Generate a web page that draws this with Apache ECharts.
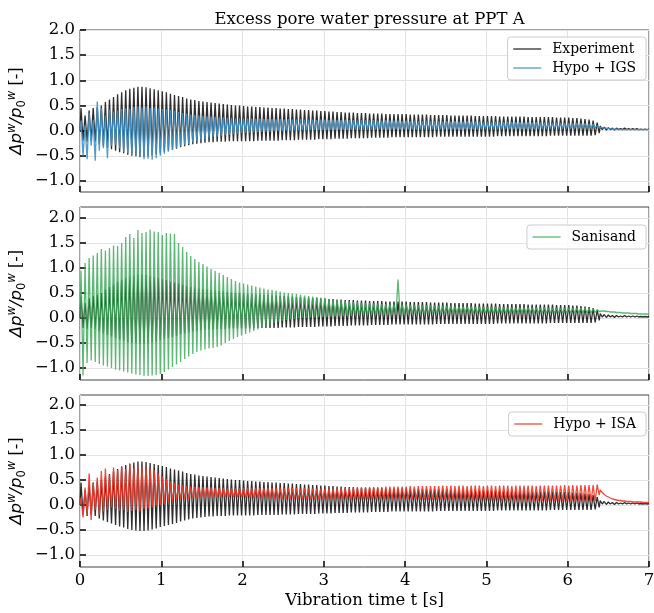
<!DOCTYPE html>
<html><head><meta charset="utf-8">
<script src="https://cdn.jsdelivr.net/npm/echarts@6/dist/echarts.min.js"></script>
<style>html,body{margin:0;padding:0;background:#fff}#c{width:654px;height:613px}</style>
</head><body><div id="c"></div>
<script>
// ---------------- data ----------------
const cyclePeriod = 0.05;     // s, one loading cycle (20 Hz)
const tailStart = 6.4;        // s, end of shaking
const tailStep = 0.025;       // s, spacing of post-shaking samples
const xTicks = [0, 1, 2, 3, 4, 5, 6, 7];
const yTicks = [-1.0, -0.5, 0.0, 0.5, 1.0, 1.5, 2.0];
const title = 'Excess pore water pressure at PPT A';
const xLabel = 'Vibration time t [s]';

// Experiment: peak (hi) and trough (lo) of each cycle
const expHi = [0.45,0.30,0.40,0.45,0.47,0.50,0.57,0.62,0.67,0.72,
 0.76,0.80,0.83,0.85,0.87,0.87,0.86,0.84,0.82,0.80,
 0.78,0.76,0.73,0.71,0.69,0.67,0.64,0.62,0.61,0.59,
 0.58,0.57,0.56,0.55,0.54,0.53,0.52,0.51,0.50,0.50,
 0.49,0.48,0.48,0.47,0.47,0.46,0.46,0.45,0.45,0.44,
 0.44,0.43,0.43,0.42,0.42,0.41,0.41,0.40,0.40,0.39,
 0.39,0.38,0.38,0.37,0.37,0.36,0.36,0.36,0.35,0.35,
 0.35,0.34,0.34,0.34,0.34,0.33,0.33,0.33,0.33,0.33,
 0.33,0.32,0.32,0.32,0.32,0.32,0.31,0.31,0.31,0.31,
 0.31,0.30,0.30,0.30,0.30,0.30,0.30,0.29,0.29,0.29,
 0.29,0.29,0.29,0.28,0.28,0.28,0.28,0.28,0.28,0.28,
 0.27,0.27,0.27,0.27,0.27,0.27,0.27,0.26,0.26,0.26,
 0.26,0.25,0.25,0.24,0.23,0.22,0.20,0.16];
const expLo = [-0.20,-0.22,-0.20,-0.22,-0.27,-0.31,-0.34,-0.37,-0.40,-0.43,
 -0.45,-0.48,-0.50,-0.51,-0.52,-0.52,-0.51,-0.49,-0.47,-0.44,
 -0.42,-0.40,-0.38,-0.36,-0.33,-0.31,-0.29,-0.27,-0.26,-0.25,
 -0.24,-0.23,-0.23,-0.22,-0.22,-0.22,-0.21,-0.21,-0.21,-0.21,
 -0.21,-0.21,-0.21,-0.20,-0.20,-0.20,-0.20,-0.20,-0.20,-0.19,
 -0.19,-0.19,-0.19,-0.18,-0.18,-0.18,-0.18,-0.18,-0.17,-0.17,
 -0.17,-0.17,-0.16,-0.16,-0.16,-0.16,-0.15,-0.15,-0.15,-0.15,
 -0.15,-0.14,-0.14,-0.14,-0.14,-0.14,-0.13,-0.13,-0.13,-0.13,
 -0.13,-0.13,-0.13,-0.13,-0.13,-0.13,-0.13,-0.12,-0.12,-0.12,
 -0.12,-0.12,-0.12,-0.12,-0.12,-0.12,-0.12,-0.12,-0.12,-0.12,
 -0.12,-0.12,-0.11,-0.11,-0.11,-0.11,-0.11,-0.11,-0.11,-0.11,
 -0.11,-0.11,-0.11,-0.11,-0.11,-0.10,-0.10,-0.10,-0.10,-0.10,
 -0.10,-0.10,-0.10,-0.10,-0.10,-0.10,-0.09,-0.05];
const expTail = [0.09,0.02,0.07,0.01,0.06,0.02,0.05,0.01,0.05,0.02,0.04,0.02,0.05,
 0.02,0.04,0.02,0.04,0.02,0.04,0.02,0.03,0.02,0.03,0.02,0.03];

// Hypo + IGS
const igsHi = [0.20,0.10,0.35,0.20,0.58,0.45,0.30,0.42,0.38,0.40,
 0.43,0.45,0.44,0.47,0.48,0.46,0.48,0.45,0.46,0.44,
 0.43,0.42,0.41,0.39,0.37,0.35,0.34,0.32,0.31,0.30,
 0.29,0.28,0.28,0.27,0.26,0.26,0.25,0.25,0.24,0.24,
 0.24,0.24,0.24,0.23,0.24,0.23,0.23,0.23,0.22,0.23,
 0.22,0.23,0.22,0.22,0.23,0.22,0.22,0.22,0.21,0.22,
 0.22,0.21,0.22,0.21,0.21,0.22,0.21,0.21,0.20,0.21,
 0.21,0.20,0.21,0.20,0.20,0.21,0.20,0.20,0.20,0.19,
 0.20,0.19,0.20,0.19,0.19,0.20,0.19,0.19,0.19,0.18,
 0.19,0.18,0.19,0.18,0.18,0.19,0.18,0.18,0.18,0.17,
 0.18,0.17,0.18,0.17,0.17,0.18,0.17,0.17,0.17,0.16,
 0.17,0.16,0.17,0.16,0.16,0.16,0.15,0.16,0.15,0.15,
 0.15,0.14,0.15,0.14,0.14,0.13,0.13,0.10];
const igsLo = [-0.50,-0.57,-0.30,-0.60,-0.40,-0.35,-0.55,-0.30,-0.28,-0.35,
 -0.42,-0.45,-0.48,-0.50,-0.53,-0.57,-0.56,-0.58,-0.55,-0.50,
 -0.46,-0.42,-0.38,-0.35,-0.31,-0.28,-0.26,-0.23,-0.21,-0.19,
 -0.17,-0.15,-0.13,-0.12,-0.10,-0.09,-0.08,-0.07,-0.06,-0.05,
 -0.04,-0.04,-0.03,-0.03,-0.02,-0.02,-0.02,-0.01,-0.01,-0.01,
 0.00,-0.01,0.00,0.00,0.01,0.00,0.01,0.01,0.01,0.01,
 0.01,0.02,0.01,0.02,0.02,0.01,0.02,0.02,0.02,0.02,
 0.02,0.02,0.02,0.03,0.02,0.02,0.03,0.03,0.02,0.03,
 0.03,0.03,0.02,0.03,0.03,0.03,0.03,0.02,0.03,0.03,
 0.03,0.03,0.03,0.02,0.03,0.03,0.03,0.03,0.03,0.03,
 0.03,0.03,0.03,0.03,0.04,0.03,0.03,0.04,0.03,0.04,
 0.04,0.03,0.04,0.04,0.04,0.04,0.04,0.04,0.04,0.05,
 0.04,0.05,0.05,0.05,0.05,0.05,0.06,0.06];
const igsTail = [0.07,0.06,0.05,0.05,0.04,0.04,0.03,0.03,0.03,0.03,0.02,0.02,0.02,
 0.02,0.02,0.02,0.02,0.02,0.02,0.02,0.02,0.02,0.02,0.02,0.02];

// Sanisand
const sanHi = [0.95,1.10,1.20,1.25,1.30,1.38,1.35,1.40,1.45,1.44,
 1.50,1.62,1.68,1.60,1.76,1.70,1.72,1.77,1.73,1.72,
 1.66,1.70,1.69,1.68,1.50,1.42,1.32,1.24,1.18,1.12,
 1.08,1.03,0.98,0.94,0.90,0.86,0.82,0.78,0.74,0.71,
 0.69,0.67,0.65,0.63,0.61,0.59,0.57,0.56,0.55,0.53,
 0.51,0.50,0.49,0.48,0.47,0.45,0.44,0.43,0.42,0.41,
 0.40,0.38,0.37,0.36,0.35,0.34,0.33,0.32,0.32,0.31,
 0.30,0.30,0.29,0.29,0.28,0.28,0.28,0.27,0.77,0.27,
 0.27,0.26,0.26,0.26,0.25,0.25,0.25,0.25,0.24,0.24,
 0.24,0.24,0.23,0.23,0.23,0.23,0.23,0.22,0.22,0.22,
 0.22,0.22,0.22,0.22,0.21,0.21,0.21,0.21,0.21,0.21,
 0.21,0.21,0.21,0.20,0.21,0.20,0.20,0.20,0.20,0.20,
 0.20,0.20,0.20,0.20,0.20,0.19,0.19,0.17];
const sanLo = [-1.15,-0.90,-0.85,-0.88,-0.92,-0.95,-0.97,-1.00,-1.03,-1.05,
 -1.07,-1.09,-1.11,-1.13,-1.14,-1.16,-1.16,-1.15,-1.14,-1.12,
 -1.08,-1.03,-0.98,-0.93,-0.88,-0.82,-0.77,-0.72,-0.68,-0.65,
 -0.63,-0.61,-0.60,-0.58,-0.55,-0.50,-0.46,-0.42,-0.38,-0.35,
 -0.32,-0.29,-0.26,-0.23,-0.20,-0.17,-0.14,-0.11,-0.08,-0.06,
 -0.04,-0.03,-0.02,-0.01,0.00,0.00,0.01,0.01,0.02,0.02,
 0.02,0.03,0.03,0.03,0.04,0.04,0.04,0.05,0.05,0.05,
 0.05,0.06,0.06,0.06,0.06,0.07,0.07,0.07,0.07,0.07,
 0.08,0.08,0.08,0.08,0.08,0.08,0.09,0.09,0.09,0.09,
 0.09,0.09,0.09,0.09,0.10,0.10,0.10,0.10,0.10,0.10,
 0.10,0.10,0.10,0.10,0.10,0.10,0.10,0.10,0.10,0.10,
 0.10,0.10,0.10,0.10,0.10,0.10,0.10,0.10,0.10,0.10,
 0.10,0.10,0.10,0.10,0.10,0.10,0.11,0.13];
const sanTail = [0.15,0.14,0.14,0.13,0.13,0.12,0.12,0.12,0.11,0.11,0.11,0.10,0.10,
 0.10,0.10,0.09,0.09,0.09,0.09,0.08,0.08,0.08,0.08,0.08,0.07];

// Hypo + ISA
const isaHi = [0.15,0.35,0.63,0.45,0.55,0.68,0.73,0.60,0.75,0.70,
 0.78,0.72,0.82,0.74,0.79,0.76,0.77,0.73,0.70,0.63,
 0.57,0.52,0.47,0.44,0.41,0.40,0.38,0.37,0.37,0.36,
 0.36,0.35,0.35,0.34,0.34,0.34,0.33,0.33,0.33,0.33,
 0.33,0.34,0.33,0.34,0.34,0.34,0.35,0.34,0.35,0.35,
 0.34,0.35,0.34,0.34,0.33,0.34,0.33,0.33,0.33,0.33,
 0.33,0.33,0.33,0.34,0.34,0.34,0.34,0.35,0.35,0.35,
 0.35,0.36,0.36,0.36,0.36,0.37,0.37,0.37,0.37,0.37,
 0.37,0.38,0.37,0.38,0.38,0.38,0.38,0.38,0.38,0.39,
 0.38,0.39,0.38,0.39,0.39,0.38,0.39,0.39,0.39,0.38,
 0.39,0.39,0.38,0.39,0.39,0.39,0.38,0.39,0.39,0.39,
 0.39,0.39,0.38,0.39,0.39,0.39,0.39,0.39,0.39,0.40,
 0.39,0.40,0.39,0.40,0.40,0.40,0.40,0.41];
const isaLo = [-0.25,-0.20,-0.30,-0.10,-0.20,-0.13,-0.10,-0.05,-0.08,-0.12,
 -0.10,-0.14,-0.12,-0.10,-0.13,-0.08,-0.07,-0.04,-0.02,0.00,
 0.03,0.05,0.07,0.09,0.11,0.12,0.12,0.13,0.13,0.14,
 0.14,0.15,0.15,0.15,0.16,0.16,0.16,0.16,0.16,0.16,
 0.15,0.15,0.14,0.14,0.13,0.13,0.12,0.12,0.12,0.11,
 0.11,0.11,0.11,0.10,0.10,0.10,0.10,0.10,0.10,0.10,
 0.10,0.10,0.11,0.10,0.11,0.11,0.10,0.11,0.11,0.11,
 0.11,0.11,0.11,0.11,0.11,0.11,0.11,0.11,0.11,0.11,
 0.11,0.10,0.11,0.10,0.10,0.10,0.10,0.10,0.10,0.10,
 0.10,0.09,0.10,0.09,0.09,0.09,0.09,0.09,0.09,0.09,
 0.09,0.08,0.09,0.08,0.08,0.08,0.08,0.08,0.08,0.08,
 0.08,0.08,0.08,0.08,0.07,0.08,0.07,0.07,0.07,0.07,
 0.07,0.07,0.07,0.07,0.07,0.07,0.07,0.20];
const isaTail = [0.30,0.25,0.21,0.18,0.16,0.14,0.12,0.11,0.10,0.09,0.09,0.08,0.08,
 0.07,0.07,0.07,0.06,0.06,0.06,0.06,0.06,0.05,0.05,0.05,0.05];

// ---------------- chart ----------------
function build(hi, lo, tail) {
  const d = [[0, 0]];
  for (let i = 0; i < hi.length; i++) {
    d.push([cyclePeriod * i + cyclePeriod * 0.25, hi[i]]);
    d.push([cyclePeriod * i + cyclePeriod * 0.75, lo[i]]);
  }
  tail.forEach((v, k) => d.push([tailStart + tailStep * k, v]));
  return d;
}
const expData = build(expHi, expLo, expTail);

const SERIF = 'DejaVu Serif';
const FS = 16.5;
const panels = [
  { top: 30, height: 162, min: -1.22, max: 2.0 },
  { top: 207, height: 173, min: -1.24, max: 2.22 },
  { top: 395, height: 172, min: -1.24, max: 2.2 }
];
const fmt = v => (v < 0 ? '\u2212' : '') + Math.abs(v).toFixed(1);
const yName = '{m|\u0394p}{sup|w}{m|/p}{sub|0}{sup|w}{n| [-]}';
const yRich = {
  m: { fontFamily: 'DejaVu Sans', fontStyle: 'italic', fontSize: FS, lineHeight: 22, color: '#000' },
  sup: { fontFamily: 'DejaVu Sans', fontStyle: 'italic', fontSize: 11.5, lineHeight: 22, verticalAlign: 'top', color: '#000' },
  sub: { fontFamily: 'DejaVu Sans', fontSize: 11.5, lineHeight: 22, verticalAlign: 'bottom', color: '#000' },
  n: { fontFamily: SERIF, fontSize: FS, lineHeight: 22, color: '#000' }
};

const grids = panels.map(p => ({
  left: 80, right: 5, top: p.top, height: p.height,
  containLabel: false, outerBoundsMode: 'none',
  show: true, borderColor: '#444', borderWidth: 1, backgroundColor: 'transparent'
}));
const xAxes = panels.map((p, i) => ({
  type: 'value', gridIndex: i, min: 0, max: 7, interval: 1, position: 'bottom',
  axisLine: { show: false, onZero: false },
  axisTick: { show: true, inside: true, length: 6, lineStyle: { color: '#000', width: 1.5 } },
  axisLabel: { show: i === 2, margin: 5, fontFamily: SERIF, fontSize: FS, color: '#000',
               formatter: v => String(v) },
  splitLine: { show: true, lineStyle: { color: '#e3e3e3', width: 1 } },
  name: i === 2 ? xLabel : '', nameLocation: 'middle', nameGap: 25, nameMoveOverlap: false,
  nameTextStyle: { fontFamily: SERIF, fontSize: FS, color: '#000' }
}));
const yAxes = panels.map((p, i) => ({
  type: 'value', gridIndex: i, min: p.min, max: p.max, position: 'left',
  axisLine: { show: false, onZero: false },
  axisTick: { show: true, inside: true, length: 6, customValues: yTicks, lineStyle: { color: '#000', width: 1.5 } },
  axisLabel: { show: true, margin: 5, fontFamily: SERIF, fontSize: FS, color: '#000',
               customValues: yTicks, formatter: fmt },
  splitLine: { show: true, lineStyle: { color: '#e3e3e3', width: 1 } },
  name: yName, nameLocation: 'middle', nameGap: 52, nameRotate: 90, nameMoveOverlap: false,
  nameTextStyle: { rich: yRich }
}));

function lineSeries(name, idx, data, color, opacity, z) {
  return {
    type: 'line', name, xAxisIndex: idx, yAxisIndex: idx, data,
    symbol: 'none', showSymbol: false, sampling: null, z,
    lineStyle: { color, width: 1.3, opacity },
    itemStyle: { color, opacity },
    emphasis: { disabled: true }, silent: true
  };
}
const EXP_C = '#000000';
const series = [
  lineSeries('Experiment', 0, expData, EXP_C, 0.82, 2),
  lineSeries('Hypo + IGS', 0, build(igsHi, igsLo, igsTail), '#4292c6', 0.92, 3),
  lineSeries('Experiment', 1, expData, EXP_C, 0.82, 2),
  lineSeries('Sanisand', 1, build(sanHi, sanLo, sanTail), '#41ab5d', 0.85, 3),
  lineSeries('Experiment', 2, expData, EXP_C, 0.82, 2),
  lineSeries('Hypo + ISA', 2, build(isaHi, isaLo, isaTail), '#ef3b2c', 0.92, 3)
];

const legendBase = {
  orient: 'vertical', right: 8, itemWidth: 28, itemHeight: 14, itemGap: 5,
  padding: [5, 10, 5, 5], borderColor: '#cccccc', borderWidth: 1, borderRadius: 3,
  backgroundColor: 'rgba(255,255,255,0.85)', selectedMode: false,
  itemStyle: { opacity: 0 },
  lineStyle: { width: 1.3 },
  textStyle: { fontFamily: SERIF, fontSize: 13.9, color: '#000', padding: [0, 0, 0, 6] }
};
const legends = [
  Object.assign({}, legendBase, { top: 37, data: ['Experiment', 'Hypo + IGS'] }),
  Object.assign({}, legendBase, { top: 225, data: ['Sanisand'] }),
  Object.assign({}, legendBase, { top: 412, data: ['Hypo + ISA'] })
];

const chart = echarts.init(document.getElementById('c'), null, { renderer: 'canvas' });
chart.setOption({
  animation: false,
  backgroundColor: '#ffffff',
  title: { text: title, left: 364.5, textAlign: 'center', top: 6,
           textStyle: { fontFamily: SERIF, fontSize: FS, fontWeight: 'normal', color: '#000' } },
  legend: legends,
  grid: grids, xAxis: xAxes, yAxis: yAxes, series
});
</script>
</body></html>
